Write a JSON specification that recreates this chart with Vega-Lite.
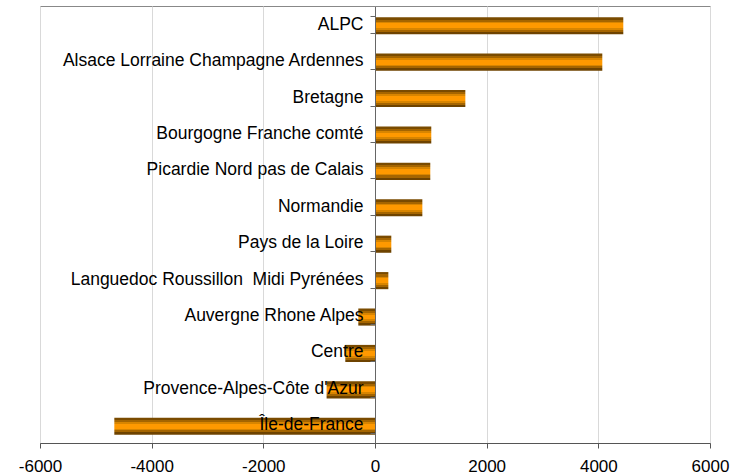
{
  "$schema": "https://vega.github.io/schema/vega-lite/v6.json",
  "width": 670,
  "height": 437,
  "autosize": "none",
  "padding": {"left": 40, "top": 6, "right": 38, "bottom": 33},
  "background": "white",
  "config": {
    "view": {"stroke": "#888888", "strokeWidth": 1},
    "font": "Liberation Sans"
  },
  "data": {
    "values": [
      {"region": "ALPC", "value": 4447},
      {"region": "Alsace Lorraine Champagne Ardennes", "value": 4071},
      {"region": "Bretagne", "value": 1618},
      {"region": "Bourgogne Franche comté", "value": 1008},
      {"region": "Picardie Nord pas de Calais", "value": 990},
      {"region": "Normandie", "value": 848},
      {"region": "Pays de la Loire", "value": 292},
      {"region": "Languedoc Roussillon\u00a0 Midi Pyrénées", "value": 239},
      {"region": "Auvergne Rhone Alpes", "value": -299},
      {"region": "Centre", "value": -532},
      {"region": "Provence-Alpes-Côte d'Azur", "value": -867},
      {"region": "Île-de-France", "value": -4669}
    ]
  },
  "mark": {
    "type": "bar",
    "yOffset": 1.5,
    "color": {
      "gradient": "linear",
      "x1": 0, "y1": 0, "x2": 0, "y2": 1,
      "stops": [
        {"offset": 0, "color": "#7a4b00"},
        {"offset": 0.14, "color": "#7a4b00"},
        {"offset": 0.14, "color": "#a56500"},
        {"offset": 0.26, "color": "#a56500"},
        {"offset": 0.26, "color": "#d88500"},
        {"offset": 0.36, "color": "#d88500"},
        {"offset": 0.36, "color": "#ff9900"},
        {"offset": 0.64, "color": "#ff9900"},
        {"offset": 0.64, "color": "#d88500"},
        {"offset": 0.74, "color": "#d88500"},
        {"offset": 0.74, "color": "#a56500"},
        {"offset": 0.86, "color": "#a56500"},
        {"offset": 0.86, "color": "#6e4300"},
        {"offset": 1, "color": "#6e4300"}
      ]
    }
  },
  "encoding": {
    "y": {
      "field": "region",
      "type": "nominal",
      "sort": null,
      "scale": {"paddingInner": 0.53, "paddingOuter": 0.265},
      "axis": {
        "title": null,
        "orient": "left",
        "offset": -335,
        "zindex": 2,
        "domainColor": "#666666",
        "tickColor": "#666666",
        "tickSize": 5,
        "tickBand": "extent",
        "labelFontSize": 17.5,
        "labelColor": "#000000",
        "labelPadding": 7,
        "labelLimit": 400,
        "grid": false
      }
    },
    "x": {
      "field": "value",
      "type": "quantitative",
      "scale": {"domain": [-6000, 6000], "nice": false, "zero": false},
      "axis": {
        "title": null,
        "values": [-6000, -4000, -2000, 0, 2000, 4000, 6000],
        "labelExpr": "'' + datum.value",
        "domainColor": "#555555",
        "tickColor": "#555555",
        "tickSize": 5,
        "gridColor": "#d9d9d9",
        "labelFontSize": 17,
        "labelColor": "#000000",
        "labelPadding": 10,
        "labelFlush": false
      }
    }
  }
}
